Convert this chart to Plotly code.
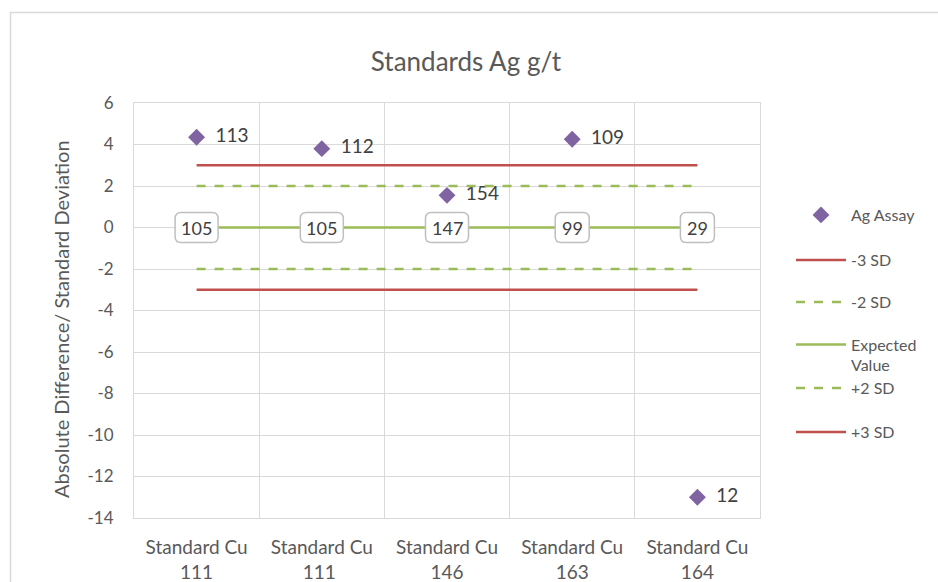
import plotly.graph_objects as go

# Standards and their control-chart values (in standard deviations)
categories = ["Standard Cu<br>111", "Standard Cu<br>111 ", "Standard Cu<br>146",
              "Standard Cu<br>163", "Standard Cu<br>164"]
assay_sd = [4.35, 3.8, 1.55, 4.25, -13.0]
assay_labels = ["113", "112", "154", "109", "12"]
expected_labels = ["105", "105", "147", "99", "29"]
expected_value = [0, 0, 0, 0, 0]
minus3 = [-3, -3, -3, -3, -3]
minus2 = [-2, -2, -2, -2, -2]
plus2 = [2, 2, 2, 2, 2]
plus3 = [3, 3, 3, 3, 3]
y_ticks = [6, 4, 2, 0, -2, -4, -6, -8, -10, -12, -14]
y_ticktext = [str(v) for v in y_ticks]

FONT = "Lato"
TXT = "#595959"
RED = "#C0504D"
GREEN = "#9BBB59"
PURPLE = "#8064A2"
GRID = "#D9D9D9"

# plot area in pixels
L, R, T, B = 134, 760, 103, 518
PW, PH = R - L, B - T


def px_x(px):
    return (px - L) / PW


def px_y(py):
    return (B - py) / PH


fig = go.Figure()

fig.add_trace(go.Scatter(
    x=categories, y=assay_sd, mode="markers+text", name="Ag Assay",
    marker=dict(symbol="diamond", size=13, color=PURPLE),
    text=["  " + t for t in assay_labels], textposition="middle right",
    textfont=dict(family=FONT, size=19, color="#404040"),
    legend="legend",
))
series = [
    ("-3 SD", minus3, RED, "solid", "legend2"),
    ("-2 SD", minus2, GREEN, "dash", "legend3"),
    ("Expected<br>Value", expected_value, GREEN, "solid", "legend4"),
    ("+2 SD", plus2, GREEN, "dash", "legend5"),
    ("+3 SD", plus3, RED, "solid", "legend6"),
]
for name, vals, color, dash, leg in series:
    fig.add_trace(go.Scatter(x=categories, y=vals, mode="lines", name=name,
                             line=dict(color=color, width=2.5, dash=dash), legend=leg))


def rounded_box(w, h, r):
    x0, x1, y0, y1 = -w / 2, w / 2, -h / 2, h / 2
    return (f"M {x0 + r},{y0} L {x1 - r},{y0} Q {x1},{y0} {x1},{y0 + r} "
            f"L {x1},{y1 - r} Q {x1},{y1} {x1 - r},{y1} L {x0 + r},{y1} "
            f"Q {x0},{y1} {x0},{y1 - r} L {x0},{y0 + r} Q {x0},{y0} {x0 + r},{y0} Z")


shapes = []
annotations = []
for cat, val, lab in zip(categories, expected_value, expected_labels):
    w = 16 + 9 * len(lab)
    shapes.append(dict(
        type="path", xref="x", yref="y", xsizemode="pixel", ysizemode="pixel",
        xanchor=cat, yanchor=val, path=rounded_box(w, 30, 6),
        fillcolor="white", line=dict(color="#BFBFBF", width=1.5), layer="above",
    ))
    annotations.append(dict(
        x=cat, y=val, xref="x", yref="y", text=lab, showarrow=False,
        font=dict(family=FONT, size=18, color="#404040"),
    ))

# outer chart frame
shapes.append(dict(type="rect", xref="paper", yref="paper",
                   x0=px_x(10.5), x1=1.6, y0=-0.5, y1=px_y(12.5),
                   line=dict(color=GRID, width=1.5), fillcolor="rgba(0,0,0,0)", layer="below"))

annotations.append(dict(
    x=px_x(61), y=px_y(319), xref="paper", yref="paper", xanchor="center", yanchor="middle",
    text="Absolute Difference/ Standard Deviation", textangle=-90, showarrow=False,
    font=dict(family=FONT, size=20, color=TXT),
))

legend_style = dict(xanchor="left", yanchor="middle", valign="top",
                    font=dict(family=FONT, size=16, color=TXT),
                    bgcolor="rgba(0,0,0,0)", itemwidth=50)
legend_rows = {"legend": 215, "legend2": 260, "legend3": 302,
               "legend4": 355, "legend5": 388, "legend6": 432}
legends = {k: dict(x=px_x(791), y=px_y(v), **legend_style) for k, v in legend_rows.items()}

fig.update_layout(
    width=938, height=582,
    margin=dict(l=L, r=938 - R, t=T, b=582 - B),
    paper_bgcolor="white", plot_bgcolor="white",
    title=dict(text="Standards Ag g/t", x=466 / 938, xanchor="center",
               y=1 - 62 / 582, yanchor="middle",
               font=dict(family=FONT, size=26, color=TXT)),
    font=dict(family=FONT, color=TXT),
    showlegend=True,
    shapes=shapes, annotations=annotations,
    **legends,
)

fig.update_xaxes(
    type="category", range=[-0.5, 4.5], tickson="boundaries", showgrid=True,
    gridcolor=GRID, gridwidth=1, showline=True, linecolor=GRID, mirror=True, ticks="",
    tickfont=dict(family=FONT, size=19, color=TXT), zeroline=False, ticklabelstandoff=12,
    automargin=False,
)
fig.update_yaxes(
    range=[-14, 6], tickvals=y_ticks, ticktext=y_ticktext, showgrid=True, gridcolor=GRID,
    gridwidth=1, showline=True, linecolor=GRID, mirror=True, zeroline=False, ticks="",
    tickfont=dict(family=FONT, size=17, color=TXT), ticklabelstandoff=16,
    automargin=False,
)

fig.write_html("out.html")
